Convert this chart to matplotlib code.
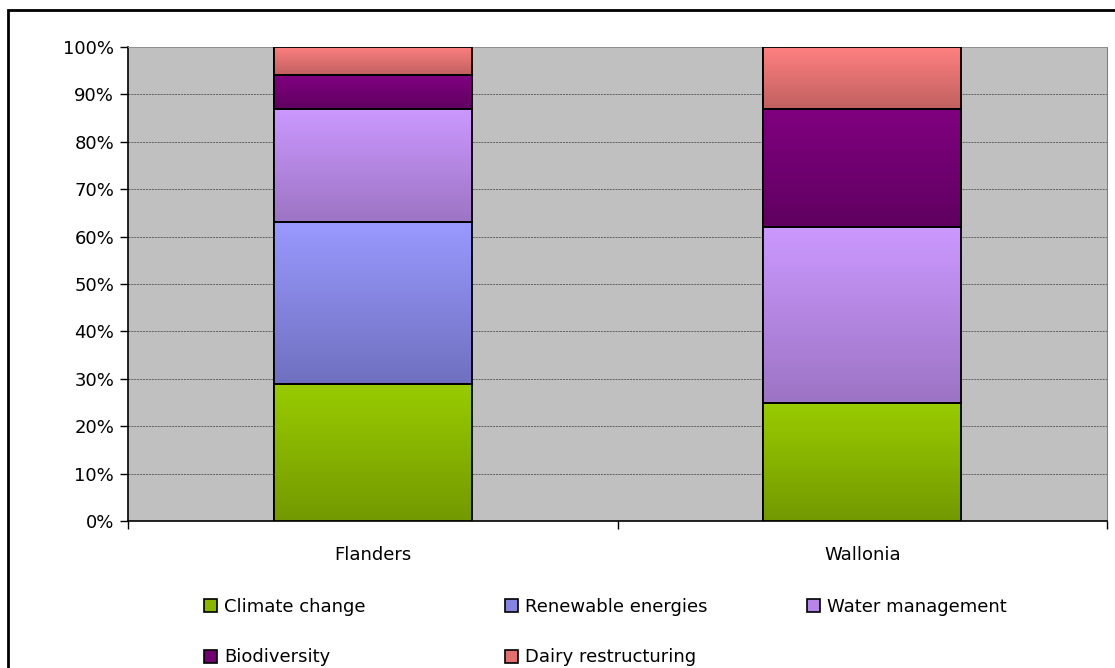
import numpy as np
import matplotlib
matplotlib.use("Agg")
import matplotlib.pyplot as plt
from matplotlib.colors import LinearSegmentedColormap
from matplotlib.patches import Rectangle

plt.rcParams['font.family'] = ['DejaVu Sans']

regions = ['Flanders', 'Wallonia']
themes = ['Climate change', 'Renewable energies', 'Water management',
          'Biodiversity', 'Dairy restructuring']

# share of each theme per region (%)
climate = [29, 25]
renewable = [34, 0]
water = [24, 37]
biodiversity = [7, 25]
dairy = [6, 13]
shares = [climate, renewable, water, biodiversity, dairy]

# (top, bottom) colours of each segment's vertical gradient
top_colors = ['#99CC00', '#9999FF', '#CC99FF', '#800080', '#FF8080']
bottom_colors = ['#739900', '#7070C0', '#9C74C4', '#600060', '#C06060']
legend_colors = ['#88B500', '#8585E0', '#B585E8', '#700070', '#E07070']

fig = plt.figure(figsize=(11.15, 6.68), dpi=100)
ax = fig.add_axes([128 / 1115, 1 - 521 / 668, 979 / 1115, 474 / 668])
ax.set_facecolor('#C0C0C0')

x = np.arange(len(regions))
width = 0.405
bottom = np.zeros(len(regions))
grad = np.linspace(0, 1, 256).reshape(-1, 1)
for vals, c_top, c_bot, c_leg, name in zip(shares, top_colors, bottom_colors,
                                           legend_colors, themes):
    vals = np.array(vals, dtype=float)
    bars = ax.bar(x, vals, width, bottom=bottom, color=c_leg, edgecolor='black',
                  linewidth=1.3, label=name, zorder=3)
    cmap = LinearSegmentedColormap.from_list(name, [c_bot, c_top])
    for bar in bars:
        if bar.get_height() <= 0:
            continue
        x0, y0 = bar.get_x(), bar.get_y()
        im = ax.imshow(grad, cmap=cmap, origin='lower', aspect='auto',
                       extent=[x0, x0 + bar.get_width(), y0, y0 + bar.get_height()],
                       zorder=3.5)
        im.set_clip_path(bar)
        edge = Rectangle((x0, y0), bar.get_width(), bar.get_height(),
                         fill=False, edgecolor='black', linewidth=1.3, zorder=4)
        ax.add_patch(edge)
    bottom += vals

fs = 13

ax.set_xlim(-0.5, 1.5)
ax.set_ylim(0, 100)
ax.set_yticks(np.arange(0, 101, 10))
ax.set_yticklabels([f'{v}%' for v in range(0, 101, 10)], fontsize=fs)
ax.yaxis.grid(True, color='#606060', linestyle=(0, (2, 1)), linewidth=0.7, zorder=1)
ax.set_axisbelow(True)

ax.set_xticks(x)
ax.set_xticklabels(regions, fontsize=fs)
ax.tick_params(axis='x', which='major', length=0, pad=18)
ax.set_xticks([-0.5, 0.5, 1.5], minor=True)
ax.tick_params(axis='x', which='minor', length=6, width=1, direction='out')
ax.tick_params(axis='y', length=6, width=1, direction='out', pad=4)

for side in ('left', 'bottom'):
    ax.spines[side].set_color('black')
    ax.spines[side].set_linewidth(1.2)
ax.spines['right'].set_color('#808080')
ax.spines['top'].set_color('#909090')
ax.spines['top'].set_linestyle((0, (2, 1)))
ax.spines['top'].set_linewidth(0.7)

# legend: three columns, each placed separately so the gaps can differ
columns = [[0, 3], [1, 4], [2]]
col_x = [204, 505, 807]
for idx, cx in zip(columns, col_x):
    handles = [Rectangle((0, 0), 1, 1, facecolor=legend_colors[i], edgecolor='black',
                         linewidth=1.2) for i in idx]
    leg = fig.legend(handles, [themes[i] for i in idx], loc='upper left',
                     bbox_to_anchor=(cx / 1115, 1 - 598 / 668), frameon=False,
                     fontsize=fs, handlelength=0.7, handleheight=0.7,
                     handletextpad=0.4, labelspacing=1.8,
                     borderpad=0, borderaxespad=0)

# outer chart frame
fig.patches.append(Rectangle((8 / 1115, -0.05), 1.1, 1 - 10 / 668 + 0.05,
                             transform=fig.transFigure, fill=False,
                             edgecolor='black', linewidth=2))

fig.savefig('out.png', dpi=100)
